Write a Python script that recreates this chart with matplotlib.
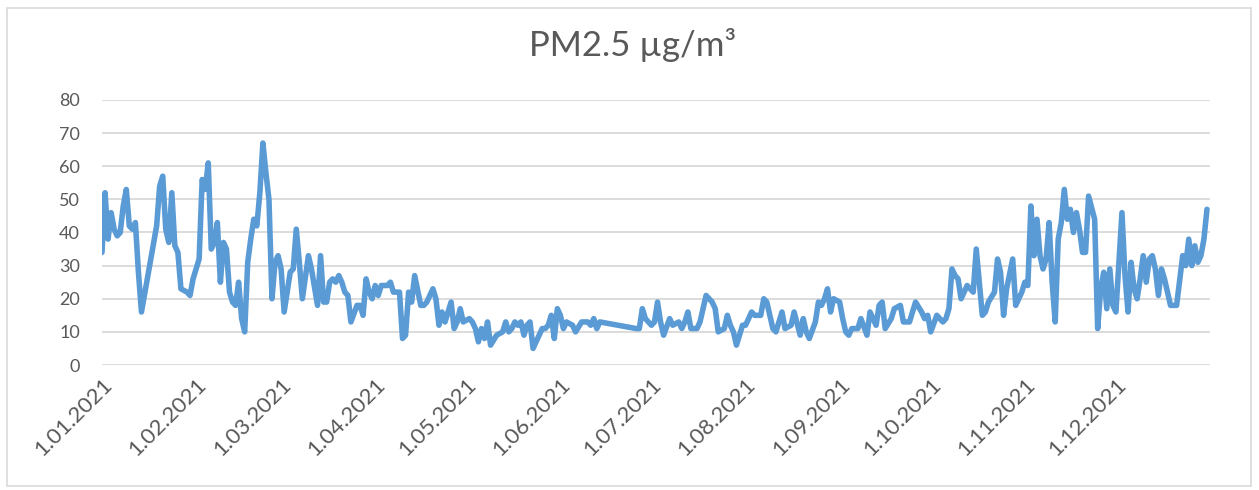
import numpy as np
import matplotlib
matplotlib.use("Agg")
import matplotlib.pyplot as plt
from matplotlib.patches import Rectangle

# ---- data (day offset from 1 Jan 2021, PM2.5 value) ----
days = [0, 1, 2, 3, 4, 5, 6, 7, 8, 9, 10, 11, 12, 13, 18, 19, 20, 21, 22, 23,
        24, 25, 26, 28, 29, 30, 31, 32, 33, 34, 35, 36, 37, 38, 39, 40, 41, 42, 43, 44,
        45, 46, 47, 48, 49, 50, 51, 52, 53, 54, 55, 56, 57, 58, 59, 60, 61, 62, 63, 64,
        65, 66, 68, 69, 71, 72, 73, 74, 75, 76, 77, 78, 79, 80, 81, 82, 84, 85, 86, 87,
        88, 89, 90, 91, 92, 94, 95, 96, 98, 99, 100, 101, 102, 103, 105, 106, 107, 109, 110, 111,
        112, 113, 114, 115, 116, 117, 118, 119, 121, 122, 123, 124, 125, 126, 127, 128, 130, 132, 133, 134,
        135, 136, 137, 138, 139, 140, 141, 142, 144, 145, 146, 147, 148, 149, 150, 151, 152, 153, 155, 156,
        158, 160, 161, 162, 163, 164, 176, 177, 178, 179, 181, 182, 183, 184, 185, 187, 188, 190, 191, 192,
        193, 194, 196, 197, 199, 201, 202, 203, 205, 206, 207, 208, 209, 211, 212, 214, 215, 217, 218, 219,
        220, 221, 222, 224, 225, 227, 228, 230, 231, 232, 233, 235, 236, 237, 238, 239, 240, 241, 243, 244,
        245, 246, 247, 249, 250, 252, 253, 255, 256, 257, 258, 260, 261, 263, 264, 266, 267, 268, 270, 271,
        272, 273, 275, 276, 277, 278, 279, 280, 281, 282, 283, 285, 286, 287, 288, 290, 291, 292, 294, 295,
        296, 297, 298, 300, 301, 303, 304, 305, 306, 307, 308, 309, 310, 311, 312, 313, 314, 315, 316, 317,
        318, 319, 320, 321, 322, 323, 324, 325, 327, 328, 329, 330, 331, 332, 333, 334, 336, 337, 338, 339,
        340, 341, 342, 343, 344, 345, 346, 347, 348, 349, 350, 352, 353, 354, 356, 357, 358, 359, 360, 361,
        362, 363, 364]
pm25 = [34, 52, 38, 46, 41, 39, 40, 48, 53, 42, 41, 43, 28, 16, 42, 54, 57, 41, 37, 52,
        36, 34, 23, 22, 21, 26, 29, 32, 56, 53, 61, 35, 37, 43, 25, 37, 35, 22, 19, 18,
        25, 14, 10, 31, 38, 44, 42, 52, 67, 58, 50, 20, 31, 33, 29, 16, 22, 28, 29, 41,
        31, 20, 33, 29, 18, 33, 19, 19, 25, 26, 25, 27, 25, 22, 21, 13, 18, 18, 15, 26,
        22, 20, 24, 21, 24, 24, 25, 22, 22, 8, 9, 22, 19, 27, 18, 18, 19, 23, 20, 12,
        16, 13, 16, 19, 11, 13, 17, 13, 14, 13, 11, 7, 11, 8, 13, 6, 9, 10, 13, 10,
        11, 13, 12, 13, 9, 12, 13, 5, 9, 11, 11, 12, 15, 8, 17, 15, 11, 13, 12, 10,
        13, 13, 12, 14, 11, 13, 11, 11, 17, 14, 12, 13, 19, 13, 9, 14, 12, 13, 11, 13,
        16, 11, 11, 13, 21, 19, 17, 10, 11, 15, 12, 10, 6, 12, 12, 16, 15, 15, 20, 19,
        15, 11, 10, 16, 11, 12, 16, 9, 14, 10, 8, 13, 19, 18, 20, 23, 16, 20, 19, 14,
        10, 9, 11, 11, 14, 9, 16, 12, 18, 19, 11, 14, 17, 18, 13, 13, 16, 19, 16, 14,
        15, 10, 15, 14, 13, 14, 17, 29, 27, 26, 20, 24, 23, 22, 35, 15, 16, 19, 22, 32,
        28, 15, 23, 32, 18, 22, 25, 24, 48, 33, 44, 33, 29, 32, 43, 25, 13, 38, 43, 53,
        44, 47, 40, 46, 41, 34, 34, 51, 44, 11, 23, 28, 17, 29, 18, 16, 46, 27, 16, 31,
        23, 20, 26, 33, 25, 32, 33, 29, 21, 29, 26, 18, 18, 18, 33, 30, 38, 30, 36, 31,
        33, 38, 47]

month_ticks = ["2021-01-01", "2021-02-01", "2021-03-01", "2021-04-01", "2021-05-01", "2021-06-01",
               "2021-07-01", "2021-08-01", "2021-09-01", "2021-10-01", "2021-11-01", "2021-12-01"]
tick_labels = ["1.01.2021", "1.02.2021", "1.03.2021", "1.04.2021", "1.05.2021", "1.06.2021",
               "1.07.2021", "1.08.2021", "1.09.2021", "1.10.2021", "1.11.2021", "1.12.2021"]
y_ticks = [0, 10, 20, 30, 40, 50, 60, 70, 80]
title = "PM2.5 µg/m³"

plt.rcParams["font.family"] = ["Lato", "DejaVu Sans"]

start = np.datetime64("2021-01-01")
dates = start + np.array(days).astype("timedelta64[D]")

W, H = 1259, 490
fig = plt.figure(figsize=(W / 100, H / 100), dpi=100)
fig.patch.set_facecolor("white")

ax = fig.add_axes([102 / W, 1 - 365 / H, (1210 - 102) / W, (365 - 100) / H])
ax.plot(dates, pm25, color="#5B9BD5", lw=4.0, solid_joinstyle="round", solid_capstyle="round")
ax.set_xlim(start, np.datetime64("2022-01-01"))
ax.set_ylim(0, 80)
ax.set_yticks(y_ticks)
ax.set_yticklabels([str(v) for v in y_ticks])
ax.grid(axis="y", color="#D9D9D9", lw=1.3)
ax.set_axisbelow(True)
for s in ax.spines.values():
    s.set_visible(False)
ax.set_xticks(np.array(month_ticks, dtype="datetime64[D]"))
ax.set_xticklabels(tick_labels, rotation=45, ha="right", va="top", rotation_mode="anchor")
ax.tick_params(axis="both", length=0, labelcolor="#595959")
ax.tick_params(axis="y", pad=16, labelsize=13)
ax.tick_params(axis="x", pad=7, labelsize=16)

fig.text(633 / W, 1 - 45 / H, title, ha="center", va="center", fontsize=25,
         color="#595959", fontweight="normal")

fig.patches.append(Rectangle((7 / W, 1 - 486 / H), (1251 - 7) / W, (486 - 8) / H,
                             transform=fig.transFigure, fill=False, edgecolor="#D9D9D9", lw=1.2))

fig.savefig("out.png", dpi=100)
